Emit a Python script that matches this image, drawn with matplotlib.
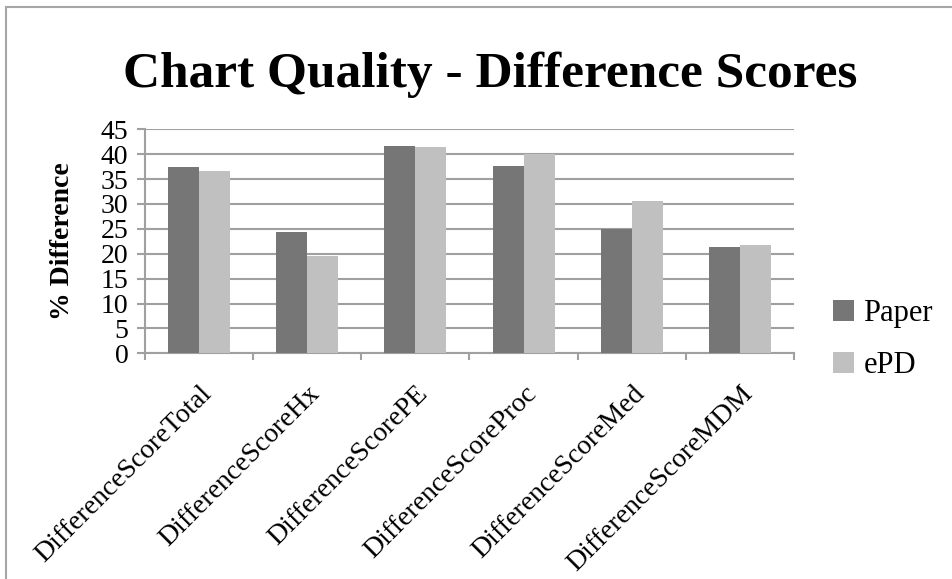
import numpy as np
import matplotlib.pyplot as plt
from matplotlib.patches import Rectangle

# Data.
categories = ["DifferenceScoreTotal", "DifferenceScoreHx", "DifferenceScorePE",
              "DifferenceScoreProc", "DifferenceScoreMed", "DifferenceScoreMDM"]
paper = [37.5, 24.4, 41.7, 37.6, 24.9, 21.4]
epd = [36.7, 19.6, 41.4, 40.1, 30.6, 21.8]
series_names = ["Paper", "ePD"]
yticks = [0, 5, 10, 15, 20, 25, 30, 35, 40, 45]

W, H = 953, 579
plt.rcParams['font.family'] = ['Liberation Serif', 'DejaVu Serif']

fig = plt.figure(figsize=(W / 100, H / 100), dpi=100)
ax = fig.add_axes([145 / W, 1 - 353.3 / H, 649 / W, 224 / H])

# Chart area border (top and left visible).
fig.patches.append(Rectangle((6 / W, -0.1), 1.2, 1 - 7 / H + 0.1, transform=fig.transFigure,
                             fill=False, edgecolor='#a6a6a6', linewidth=1.5))

x = np.arange(len(categories))
bw = 0.287
ax.bar(x - bw / 2, paper, bw, color='#767676', label=series_names[0], zorder=3)
ax.bar(x + bw / 2, epd, bw, color='#c0c0c0', label=series_names[1], zorder=3)

ax.set_xlim(-0.5, len(categories) - 0.5)
ax.set_ylim(0, 45)
ax.set_yticks(yticks)
ax.grid(axis='y', color='#a0a0a0', linewidth=1.5, zorder=0)
ax.set_axisbelow(True)

for s in ['top', 'right']:
    ax.spines[s].set_visible(False)
for s in ['left', 'bottom']:
    ax.spines[s].set_color('#a0a0a0')
    ax.spines[s].set_linewidth(1.5)

ax.tick_params(axis='y', length=6, width=1.5, color='#a0a0a0', labelsize=20, pad=6)
ax.set_xticks(x)
ax.set_xticks(np.arange(-0.5, len(categories)), minor=True)
ax.tick_params(axis='x', which='minor', length=5, width=1.5, color='#a0a0a0', direction='out')
ax.tick_params(axis='x', which='major', length=0, labelsize=20, pad=20)
ax.set_xticklabels(categories, rotation=45, ha='right', va='top', rotation_mode='anchor')

ax.set_ylabel('% Difference', fontsize=20, fontweight='bold')
ax.yaxis.set_label_coords(-70 / 649, 0.5)

fig.text(490 / W, 1 - 75 / H, 'Chart Quality - Difference Scores', ha='center', va='center',
         fontsize=37, fontweight='bold')

ax.legend(loc='upper left', bbox_to_anchor=(833 / W, 1 - 299 / H), bbox_transform=fig.transFigure,
          frameon=False, fontsize=22, handlelength=0.7, handleheight=0.7,
          handletextpad=0.3, labelspacing=0.75, borderpad=0, borderaxespad=0)

fig.savefig('out.png', dpi=100)
